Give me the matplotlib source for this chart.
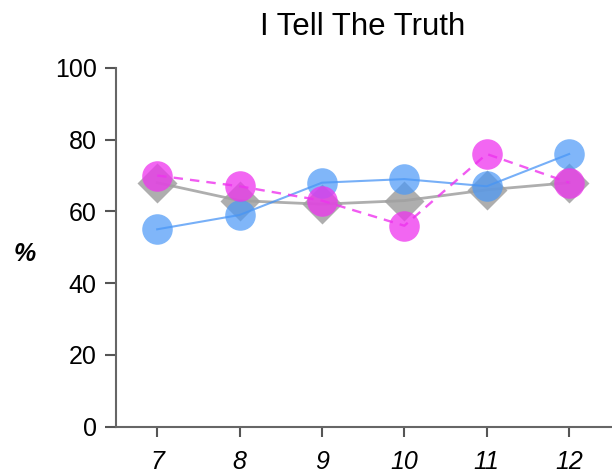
import matplotlib
matplotlib.use("Agg")
import matplotlib.pyplot as plt

grades = [7, 8, 9, 10, 11, 12]
gray_vals = [68, 63, 62, 63, 66, 68]
blue_vals = [55, 59, 68, 69, 67, 76]
pink_vals = [70, 67, 63, 56, 76, 68]
yticks = [0, 20, 40, 60, 80, 100]
title = "I Tell The Truth"

plt.rcParams['font.family'] = ['Liberation Sans', 'DejaVu Sans']

fig = plt.figure(figsize=(6.12, 4.75), dpi=100)
ax = fig.add_axes([0.1895, 0.102, 0.8105, 0.755])

ax.plot(grades, gray_vals, color='#9a9a9a', lw=2, alpha=0.8, zorder=2)
ax.plot(grades, gray_vals, 'D', color='#a0a0a0', ms=20, mec='none', alpha=0.85, zorder=2)
ax.plot(grades, blue_vals, color='#3d8ef5', lw=1.5, alpha=0.7, zorder=3)
ax.plot(grades, blue_vals, 'o', color='#4a98f7', ms=22, mec='none', alpha=0.7, zorder=3)
ax.plot(grades, pink_vals, color='#ee33ee', lw=1.7, ls=(0, (4, 3)), alpha=0.8, zorder=4)
ax.plot(grades, pink_vals, 'o', color='#ee33ee', ms=22, mec='none', alpha=0.75, zorder=4)

ax.set_xlim(6.5, 12.52)
ax.set_ylim(0, 100)
ax.set_xticks(grades)
ax.set_xticklabels([str(g) for g in grades], fontstyle='italic', fontsize=18)
ax.set_yticks(yticks)
ax.set_yticklabels([str(v) for v in yticks], fontsize=18)
ax.tick_params(axis='y', length=8, width=1.5, color='#555555', pad=6)
ax.tick_params(axis='x', length=7, width=1.5, color='#555555', pad=10)
for s in ['top', 'right']:
    ax.spines[s].set_visible(False)
for s in ['left', 'bottom']:
    ax.spines[s].set_color('#666666')
    ax.spines[s].set_linewidth(1.5)

fig.text(0.592, 0.943, title, fontsize=22.5, ha='center', va='center')
fig.text(0.041, 0.465, '%', fontsize=18, fontstyle='italic', fontweight='bold',
         ha='center', va='center')

fig.savefig('out.png', dpi=100)
